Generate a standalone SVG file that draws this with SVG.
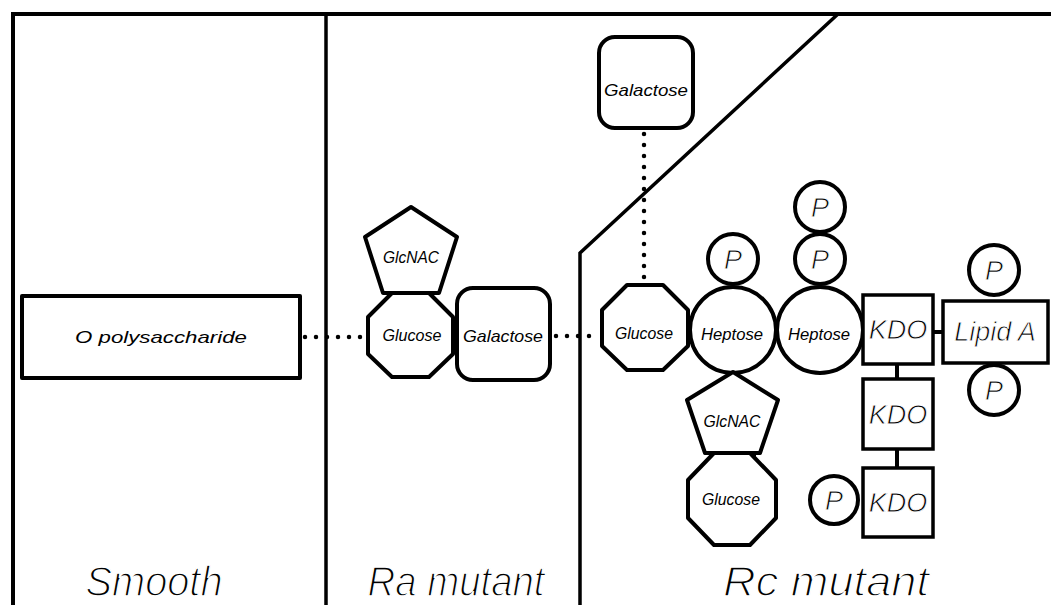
<svg xmlns="http://www.w3.org/2000/svg" width="1051" height="605" viewBox="0 0 1051 605">
<style>
.frame{fill:none;stroke:#000;stroke-width:4}
.div{fill:none;stroke:#000;stroke-width:3.5}
.sh{fill:#fff;stroke:#000;stroke-width:4;stroke-linejoin:round}
.thin{fill:#fff;stroke:#000;stroke-width:3.5}
.dot{fill:none;stroke:#000;stroke-width:4.5;stroke-linecap:round;stroke-dasharray:0 11}
.link{fill:none;stroke:#000;stroke-width:4}
.junc{fill:none;stroke:#000;stroke-width:7}
.lab{font-family:"Liberation Sans",Arial,sans-serif;font-style:italic;font-size:16.5px;text-anchor:middle;fill:#000}
.lt{font-family:"Liberation Sans",Arial,sans-serif;font-style:italic;font-size:27px;text-anchor:middle;fill:#000;stroke:#fff;stroke-width:0.8}
.big{font-family:"Liberation Sans Narrow","Liberation Sans",sans-serif;font-style:italic;font-size:42px;text-anchor:middle;fill:#000;stroke:#fff;stroke-width:1.4}
</style>
<rect width="1051" height="605" fill="#fff"/>
<g id="frame">
<polyline class="frame" points="13,605 13,14 1051,14"/>
<line class="div" x1="326" y1="14" x2="326" y2="605"/>
<polyline class="div" points="838,14 580,253 580,605"/>
</g>
<g id="connectors">
<line class="dot" x1="305" y1="337" x2="368" y2="337"/>
<line class="dot" x1="556" y1="336" x2="600" y2="336"/>
<line class="dot" x1="644" y1="134" x2="644" y2="284"/>
<line class="link" x1="933" y1="332" x2="943" y2="332"/>
<line class="link" x1="897" y1="364" x2="897" y2="379"/>
<line class="link" x1="897" y1="449" x2="897" y2="468"/>
<line class="junc" x1="391" y1="293" x2="431" y2="293"/>
<line class="junc" x1="709" y1="453" x2="756" y2="453"/>
</g>
<g id="o-polysaccharide">
<rect class="sh" x="22" y="296" width="278" height="82"/>
<text class="lab" x="161" y="343" textLength="172" lengthAdjust="spacingAndGlyphs">O polysaccharide</text>
</g>
<g id="ra-glcnac">
<polygon class="sh" points="411,207 457,237 439,293 383,293 365,237"/>
<text class="lab" x="411" y="263" textLength="56" lengthAdjust="spacingAndGlyphs">GlcNAC</text>
</g>
<g id="ra-glucose">
<polygon class="sh" points="392,293 429,293 453,317 453,354 429,377 392,377 368,354 368,317"/>
<text class="lab" x="412" y="341" textLength="59" lengthAdjust="spacingAndGlyphs">Glucose</text>
</g>
<g id="ra-galactose">
<rect class="sh" x="457" y="288" width="93" height="92" rx="16"/>
<text class="lab" x="503" y="342" textLength="80" lengthAdjust="spacingAndGlyphs">Galactose</text>
</g>
<g id="rc-galactose">
<rect class="sh" x="599" y="37" width="94" height="91" rx="16"/>
<text class="lab" x="646" y="96" textLength="84" lengthAdjust="spacingAndGlyphs">Galactose</text>
</g>
<g id="rc-glucose">
<polygon class="sh" points="627,285 663,285 688,310 688,346 663,370 627,370 602,346 602,310"/>
<text class="lab" x="644" y="339" textLength="58" lengthAdjust="spacingAndGlyphs">Glucose</text>
</g>
<g id="heptose-1">
<circle class="sh" cx="733" cy="330" r="43"/>
<text class="lab" x="732" y="340" textLength="62" lengthAdjust="spacingAndGlyphs">Heptose</text>
</g>
<g id="heptose-2">
<circle class="sh" cx="820" cy="330" r="43"/>
<text class="lab" x="819" y="340" textLength="62" lengthAdjust="spacingAndGlyphs">Heptose</text>
</g>
<g id="p-h1">
<circle class="sh" cx="733" cy="259" r="25"/>
<text class="lt" x="733" y="269">P</text>
</g>
<g id="p-h2a">
<circle class="sh" cx="820" cy="259" r="25"/>
<text class="lt" x="820" y="269">P</text>
</g>
<g id="p-h2b">
<circle class="sh" cx="820" cy="207" r="25"/>
<text class="lt" x="820" y="217">P</text>
</g>
<g id="kdo-1">
<rect class="thin" x="863" y="295" width="70" height="69"/>
<text class="lt" x="898" y="339">KDO</text>
</g>
<g id="lipid-a">
<rect class="thin" x="943" y="301" width="105" height="62"/>
<text class="lt" x="995" y="341">Lipid A</text>
</g>
<g id="p-la-top">
<circle class="sh" cx="994" cy="270" r="25"/>
<text class="lt" x="994" y="280">P</text>
</g>
<g id="p-la-bottom">
<circle class="sh" cx="994" cy="390" r="25"/>
<text class="lt" x="994" y="400">P</text>
</g>
<g id="kdo-2">
<rect class="thin" x="863" y="379" width="70" height="70"/>
<text class="lt" x="898" y="424">KDO</text>
</g>
<g id="kdo-3">
<rect class="thin" x="863" y="468" width="70" height="69"/>
<text class="lt" x="898" y="512">KDO</text>
</g>
<g id="p-kdo3">
<circle class="sh" cx="834" cy="500" r="24"/>
<text class="lt" x="834" y="510">P</text>
</g>
<g id="rc-glcnac">
<polygon class="sh" points="733,372 778,400 760,453 705,453 687,400"/>
<text class="lab" x="732" y="427" textLength="57" lengthAdjust="spacingAndGlyphs">GlcNAC</text>
</g>
<g id="rc-glucose-2">
<polygon class="sh" points="714,453 750,453 776,480 776,518 750,545 714,545 688,518 688,480"/>
<text class="lab" x="731" y="505" textLength="58" lengthAdjust="spacingAndGlyphs">Glucose</text>
</g>
<g id="labels">
<text class="big" x="154" y="596" textLength="137" lengthAdjust="spacingAndGlyphs">Smooth</text>
<text class="big" x="456" y="596" textLength="177" lengthAdjust="spacingAndGlyphs">Ra mutant</text>
<text class="big" x="826" y="596" textLength="206" lengthAdjust="spacingAndGlyphs">Rc mutant</text>
</g>
</svg>
